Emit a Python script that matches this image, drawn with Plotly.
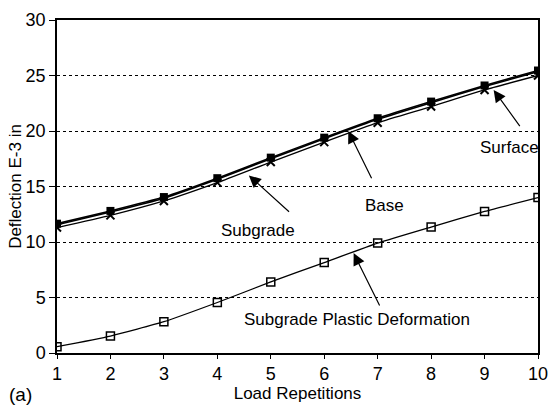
import plotly.graph_objects as go

reps = [1, 2, 3, 4, 5, 6, 7, 8, 9, 10]
surface = [11.65, 12.8, 14.05, 15.75, 17.6, 19.4, 21.15, 22.65, 24.1, 25.45]
base = [11.55, 12.7, 13.95, 15.65, 17.5, 19.3, 21.05, 22.55, 24.0, 25.35]
subgrade = [11.3, 12.4, 13.7, 15.35, 17.2, 19.0, 20.75, 22.2, 23.7, 25.0]
plastic = [0.57, 1.53, 2.82, 4.55, 6.4, 8.15, 9.9, 11.35, 12.75, 14.0]

font = "Liberation Sans, Arial, Helvetica, sans-serif"

fig = go.Figure()
line_kw = dict(shape="spline", smoothing=0.5, color="black")
fig.add_trace(go.Scatter(x=reps, y=subgrade, mode="lines+markers",
                         line=dict(width=1.3, **line_kw),
                         marker=dict(symbol="x-thin", size=8, line=dict(width=2, color="black"))))
fig.add_trace(go.Scatter(x=reps, y=base, mode="lines",
                         line=dict(width=1.6, **line_kw)))
fig.add_trace(go.Scatter(x=reps, y=surface, mode="lines+markers",
                         line=dict(width=1.6, **line_kw),
                         marker=dict(symbol="square", size=8, color="black")))
fig.add_trace(go.Scatter(x=reps, y=plastic, mode="lines+markers",
                         line=dict(width=1.3, **line_kw),
                         marker=dict(symbol="square-open", size=8, line=dict(width=1.5, color="black"), color="black")))

# labels with arrows: (text, text_x, text_y, tip_x, tip_y, tail_x, tail_y)
labels = [
    ("Subgrade", 4.76, 11.0, 4.59, 16.0, 5.37, 12.6),
    ("Base", 7.12, 13.3, 6.45, 20.0, 6.9, 15.6),
    ("Surface", 9.47, 18.5, 9.17, 23.7, 9.68, 20.3),
    ("Subgrade Plastic Deformation", 6.62, 3.0, 6.55, 9.0, 7.05, 4.15),
]
for txt, tx, ty, hx, hy, ax, ay in labels:
    fig.add_annotation(x=tx, y=ty, text=txt, showarrow=False,
                       font=dict(family=font, size=17, color="black"))
    fig.add_annotation(x=hx, y=hy, ax=ax, ay=ay, axref="x", ayref="y", text="",
                       showarrow=True, arrowhead=2, arrowsize=2.0, arrowwidth=1.2,
                       arrowcolor="black")

fig.add_annotation(x=0, y=0, xref="paper", yref="paper", text="(a)", showarrow=False,
                   xanchor="left", yanchor="bottom", xshift=-50, yshift=-54,
                   font=dict(family=font, size=19, color="black"))

fig.update_layout(
    width=558, height=407,
    margin=dict(l=57, r=10, t=19, b=54),
    paper_bgcolor="white", plot_bgcolor="white",
    showlegend=False,
    font=dict(family=font, size=17, color="black"),
    xaxis=dict(range=[1, 10], tickvals=reps, showgrid=False, zeroline=False,
               showline=True, linecolor="black", linewidth=1.5, mirror=True,
               ticks="outside", ticklen=4, tickcolor="black",
               tickfont=dict(size=18),
               title=dict(text="Load Repetitions", font=dict(size=17), standoff=0)),
    yaxis=dict(range=[0, 30], tickvals=[0, 5, 10, 15, 20, 25, 30], showgrid=True,
               gridcolor="black", griddash="dot", gridwidth=1, zeroline=False,
               showline=True, linecolor="black", linewidth=1.5, mirror=True,
               ticks="outside", ticklen=6, tickcolor="black",
               tickfont=dict(size=18),
               title=dict(text="Deflection E-3 in", font=dict(size=17), standoff=0)),
)

fig.write_html("out.html")
